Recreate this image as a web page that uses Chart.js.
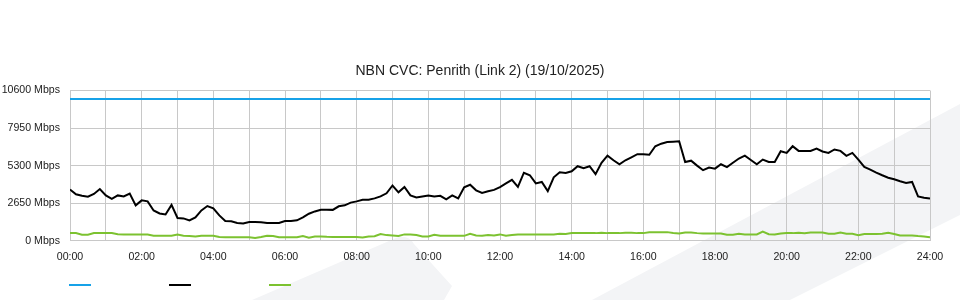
<!DOCTYPE html>
<html>
<head>
<meta charset="utf-8">
<script src="https://cdn.jsdelivr.net/npm/chart.js@4.4.1/dist/chart.umd.min.js"></script>
<style>
html,body{margin:0;padding:0;background:#fff;}
canvas{display:block;}
</style>
</head>
<body>
<canvas id="c" width="960" height="300"></canvas>
<script>
// ---- data ----
const chartTitle = 'NBN CVC: Penrith (Link 2) (19/10/2025)';
// sample times in minutes after midnight (10-minute samples, 00:00 .. 24:00)
const sampleMinutes = Array.from({length: 145}, (_, i) => i * 10);
const xTickLabels = ['00:00','02:00','04:00','06:00','08:00','10:00','12:00','14:00','16:00','18:00','20:00','22:00','24:00'];
const yTicks = [0, 2650, 5300, 7950, 10600];

// provisioned capacity (Mbps), start and end of day
const capacityMinutes = [0, 1440];
const capacityMbps = [10000, 10000];

// traffic (Mbps), one row per hour, 10-minute samples
const trafficMbps = [
  3610,3280,3170,3110,3300,3650,
  3200,2960,3200,3130,3330,2500,
  2850,2780,2140,1930,1860,2530,
  1610,1580,1440,1650,2140,2450,
  2290,1790,1390,1370,1260,1220,
  1320,1320,1300,1250,1260,1250,
  1390,1400,1440,1650,1910,2070,
  2190,2190,2180,2430,2500,2690,
  2780,2900,2900,2990,3130,3350,
  3900,3420,3800,3200,3060,3130,
  3200,3130,3170,2920,3200,2990,
  3770,3950,3560,3380,3490,3590,
  3790,4050,4300,3800,4800,4620,
  4050,4150,3500,4480,4830,4780,
  4900,5260,5120,5260,4700,5500,
  6000,5680,5400,5680,5890,6110,
  6110,6070,6670,6850,6960,6990,
  7020,5550,5650,5300,4980,5160,
  5090,5400,5200,5500,5800,6000,
  5700,5400,5730,5560,5560,6320,
  6200,6670,6340,6340,6340,6510,
  6300,6200,6440,6340,5990,6200,
  5730,5210,5020,4810,4620,4450,
  4340,4200,4080,4150,3130,3040,
  2990
];

// secondary traffic (Mbps)
const secondaryMbps = [
  540,540,430,420,540,540,
  540,540,460,450,450,450,
  450,440,360,350,350,360,
  440,360,340,300,350,360,
  350,260,250,250,250,250,
  250,190,260,350,340,250,
  250,250,250,340,220,300,
  300,280,270,270,270,270,
  270,240,300,320,480,400,
  380,340,450,450,400,300,
  310,420,350,350,350,350,
  350,500,380,360,400,380,
  450,350,400,440,440,440,
  450,450,450,450,500,480,
  540,540,540,540,540,570,
  540,540,540,560,570,540,
  540,600,610,610,610,550,
  520,590,590,540,520,520,
  520,520,420,420,500,450,
  450,450,650,460,450,520,
  540,540,560,530,590,590,
  590,500,500,580,500,500,
  400,480,470,480,500,560,
  480,380,370,370,330,300,
  250
];

const seriesColors = ['#17a2e8', '#000000', '#7cc230'];

// ---- chart ----
const toPoints = (xs, ys) => ys.map((y, i) => ({x: xs[i], y}));
const FONT = "'Liberation Sans', Arial, sans-serif";

const watermark = {
  id: 'watermark',
  beforeDraw(chart) {
    const ctx = chart.ctx;
    ctx.save();
    ctx.fillStyle = '#f3f4f6';
    ctx.beginPath();
    ctx.moveTo(592, 300); ctx.lineTo(960, 104); ctx.lineTo(960, 215); ctx.lineTo(790, 300);
    ctx.closePath(); ctx.fill();
    ctx.beginPath();
    ctx.moveTo(252, 300); ctx.lineTo(396, 238); ctx.quadraticCurveTo(408, 234, 414, 244);
    ctx.lineTo(452, 286); ctx.lineTo(444, 300);
    ctx.closePath(); ctx.fill();
    ctx.restore();
  }
};

// centre the title across the whole canvas
const titleCentre = {
  id: 'titleCentre',
  afterLayout(chart) {
    if (chart.titleBlock) { chart.titleBlock.left = 0; chart.titleBlock.right = chart.width; }
  }
};

const legendKeys = {
  id: 'legendKeys',
  afterDraw(chart) {
    const ctx = chart.ctx;
    const x0 = chart.chartArea.left - 1;
    ctx.save();
    chart.data.datasets.forEach((ds, i) => {
      ctx.fillStyle = ds.borderColor;
      ctx.fillRect(x0 + i * 100, 284, 22, 2);
    });
    ctx.restore();
  }
};

new Chart(document.getElementById('c'), {
  type: 'line',
  data: {
    datasets: [
      {label: 'Capacity', data: toPoints(capacityMinutes, capacityMbps), borderColor: seriesColors[0], borderWidth: 2, pointRadius: 0},
      {label: 'Traffic', data: toPoints(sampleMinutes, trafficMbps), borderColor: seriesColors[1], borderWidth: 2, pointRadius: 0},
      {label: 'Secondary', data: toPoints(sampleMinutes, secondaryMbps), borderColor: seriesColors[2], borderWidth: 2, pointRadius: 0}
    ]
  },
  options: {
    responsive: false,
    animation: false,
    devicePixelRatio: 1,
    layout: {padding: {left: 0, right: 30, top: 0, bottom: 26.5}},
    elements: {line: {tension: 0}},
    plugins: {
      legend: {display: false},
      tooltip: {enabled: false},
      title: {
        display: true, text: chartTitle, color: '#222',
        font: {family: FONT, size: 14, weight: 'normal'},
        padding: {top: 62.5, bottom: 11.2}
      }
    },
    scales: {
      x: {
        type: 'linear', min: 0, max: 1440,
        ticks: {
          stepSize: 60, autoSkip: false, maxRotation: 0, padding: 10,
          color: '#222', font: {family: FONT, size: 10.6},
          callback: v => (v % 120 === 0 ? xTickLabels[v / 120] : '')
        },
        grid: {color: '#c8c8c8', drawTicks: false, lineWidth: 1},
        border: {color: '#c8c8c8'}
      },
      y: {
        min: 0, max: 10600,
        afterFit: s => { s.width = 70; },
        afterBuildTicks: s => { s.ticks = yTicks.map(v => ({value: v})); },
        ticks: {
          padding: 10, color: '#222', font: {family: FONT, size: 10.6},
          callback: v => v + ' Mbps'
        },
        grid: {color: '#c8c8c8', drawTicks: false, lineWidth: 1},
        border: {color: '#c8c8c8'}
      }
    }
  },
  plugins: [watermark, titleCentre, legendKeys]
});
</script>
</body>
</html>
